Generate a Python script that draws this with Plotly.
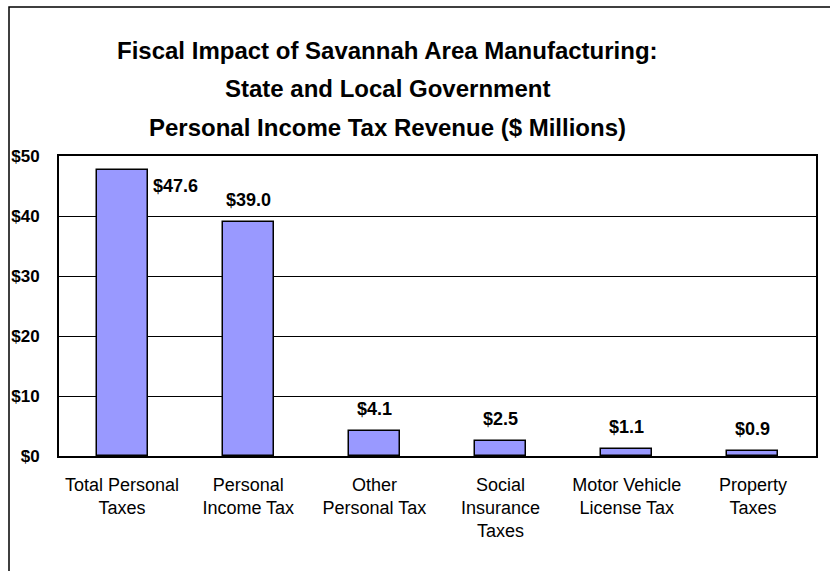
import plotly.graph_objects as go

# Chart data
categories = [
    "Total Personal<br>Taxes",
    "Personal<br>Income Tax",
    "Other<br>Personal Tax",
    "Social<br>Insurance<br>Taxes",
    "Motor Vehicle<br>License Tax",
    "Property<br>Taxes",
]
revenue = [47.6, 39.0, 4.1, 2.5, 1.1, 0.9]
title_lines = [
    "Fiscal Impact of Savannah Area Manufacturing:",
    "State and Local Government",
    "Personal Income Tax Revenue ($ Millions)",
]

W, H = 830, 571
ML, MR, MT, MB = 59, 14, 156, 115
PW, PH = W - ML - MR, H - MT - MB


def px_x(x):
    return (x - ML) / PW


def px_y(y):
    return (H - MB - y) / PH


fig = go.Figure(
    go.Bar(
        x=list(range(len(categories))),
        y=revenue,
        width=0.405,
        marker=dict(color="#9999FF", line=dict(color="black", width=1.5)),
        hoverinfo="skip",
    )
)

label_font = dict(family="Arial, Liberation Sans, sans-serif", size=18, color="black")

annotations = []
for i, v in enumerate(revenue):
    if i == 0:
        annotations.append(dict(
            x=i, y=v, xref="x", yref="y", text=f"<b>${v:.1f}</b>",
            showarrow=False, xanchor="left", yanchor="middle",
            xshift=29, yshift=-16, font=label_font,
        ))
    else:
        annotations.append(dict(
            x=i, y=v, xref="x", yref="y", text=f"<b>${v:.1f}</b>",
            showarrow=False, xanchor="center", yanchor="middle",
            yshift=22, font=label_font,
        ))

title_font = dict(family="Arial, Liberation Sans, sans-serif", size=24, color="black")
for line, ypix in zip(title_lines, [50, 88, 127]):
    annotations.append(dict(
        x=px_x(387), y=px_y(ypix), xref="paper", yref="paper",
        text=f"<b>{line}</b>", showarrow=False,
        xanchor="center", yanchor="middle", font=title_font,
    ))

fig.update_layout(
    width=W, height=H,
    margin=dict(l=ML, r=MR, t=MT, b=MB, pad=0),
    paper_bgcolor="white", plot_bgcolor="white",
    showlegend=False,
    bargap=0,
    annotations=annotations,
    shapes=[dict(
        type="rect", xref="paper", yref="paper",
        x0=px_x(9), x1=px_x(840), y0=px_y(580), y1=px_y(7),
        line=dict(color="black", width=1.5), layer="below",
    )],
    xaxis=dict(
        range=[-0.5, len(categories) - 0.5],
        tickmode="array",
        tickvals=list(range(len(categories))),
        ticktext=categories,
        tickfont=dict(family="Arial, Liberation Sans, sans-serif", size=18, color="black"),
        showgrid=False, zeroline=False,
        showline=True, linecolor="black", linewidth=2, mirror=True,
        ticks="", ticklabelstandoff=11,
    ),
    yaxis=dict(
        range=[0, 50], dtick=10, tickprefix="$",
        tickfont=dict(family="Arial, Liberation Sans, sans-serif", size=17, color="black",
                      weight="bold"),
        showgrid=True, gridcolor="black", gridwidth=1,
        zeroline=False,
        showline=True, linecolor="black", linewidth=2, mirror=True,
        ticks="", ticklabelstandoff=14,
    ),
)

fig.write_html("out.html")
